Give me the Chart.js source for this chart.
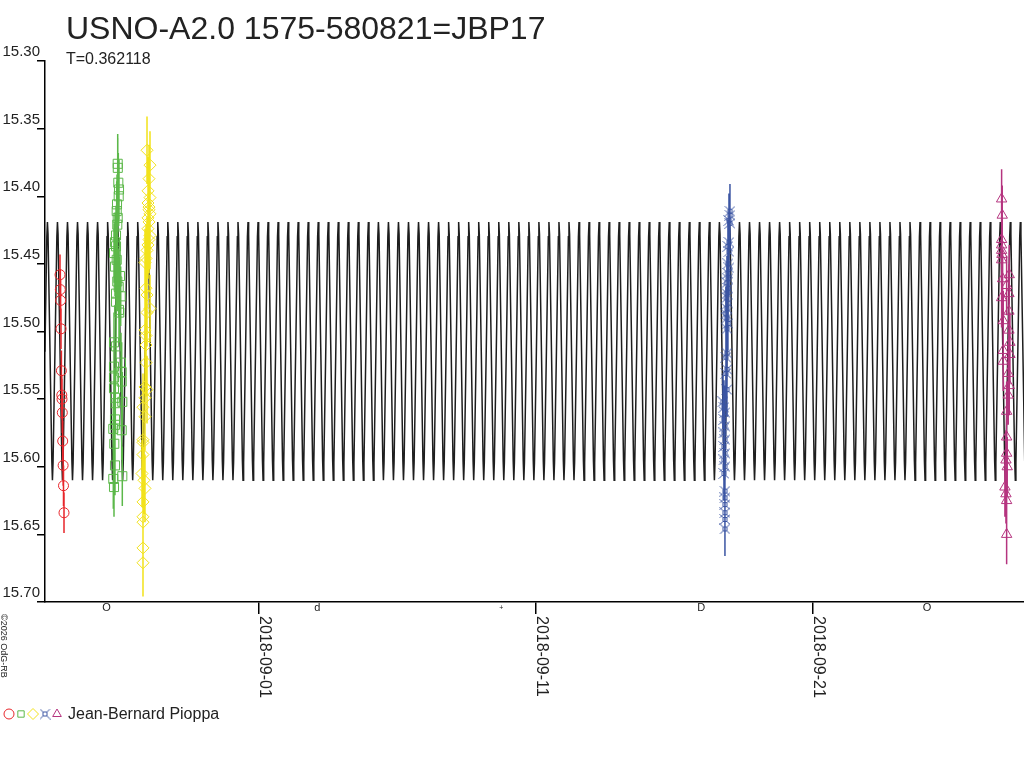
<!DOCTYPE html>
<html>
<head>
<meta charset="utf-8">
<title>USNO-A2.0 1575-580821=JBP17</title>
<script src="https://cdn.jsdelivr.net/npm/chart.js@4.4.1/dist/chart.umd.min.js"></script>
<style>
  html, body { margin: 0; padding: 0; background: #fff; }
  canvas { display: block; }
</style>
</head>
<body>
<canvas id="lightCurve" width="1024" height="768"></canvas>
<script>
// all times are days counted from 2018-09-01 00:00 UT
const starName = 'USNO-A2.0 1575-580821=JBP17';
const observer = 'Jean-Bernard Pioppa';
const periodDays = 0.362118;
const epochMaxDay = 2.863;
// one cycle of the model curve
const modelPhase = [0, 0.06, 0.25, 0.44, 0.5, 0.56, 0.75, 0.94];
const modelMag = [15.419, 15.428, 15.512, 15.596, 15.610, 15.597, 15.515, 15.430];

const xMinDay = -7.726;
const xMaxDay = 27.62;
const xTickDays = [0, 10, 20];
const xTickLabels = ['2018-09-01', '2018-09-11', '2018-09-21'];

// moon phases under the axis
const moonDays = [-5.503, 2.109, 8.751, 15.969, 24.120];
const moonMarks = ['O', 'd', '+', 'D', 'O'];

const redDays = [-7.184, -7.173, -7.162, -7.148, -7.134, -7.119, -7.112, -7.101, -7.087, -7.072, -7.058, -7.040];
const redMags = [15.458, 15.469, 15.477, 15.498, 15.529, 15.547, 15.550, 15.560, 15.581, 15.599, 15.614, 15.634];
const redErr = 0.015;

const greenDays = [-5.101, -5.098, -5.079, -5.054, -5.065, -5.126, -5.137, -5.101, -5.116, -5.162, -5.199,
  -5.162, -5.235, -5.137, -5.199, -5.018, -5.116, -5.065, -5.162, -4.993, -5.162, -5.054, -5.043, -5.235,
  -5.162, -4.982, -5.235, -4.957, -5.235, -4.957, -5.235, -5.199, -4.935, -5.188, -5.199, -5.199, -5.260,
  -4.957, -5.224, -5.199, -4.935, -5.260, -5.235];
const greenMags = [15.376, 15.379, 15.390, 15.395, 15.400, 15.406, 15.411, 15.416, 15.421, 15.429, 15.434,
  15.437, 15.442, 15.447, 15.452, 15.459, 15.463, 15.467, 15.472, 15.474, 15.478, 15.484, 15.486, 15.508,
  15.511, 15.523, 15.526, 15.530, 15.534, 15.537, 15.542, 15.549, 15.552, 15.553, 15.565, 15.569, 15.572,
  15.573, 15.583, 15.599, 15.607, 15.609, 15.615];
const greenErr = 0.022;

const yellowDays = [-4.043, -3.935, -3.971, -4.007, -3.935, -4.007, -3.971, -3.971, -3.935, -4.007, -3.971,
  -4.007, -3.935, -3.971, -4.007, -4.043, -4.079, -4.116, -4.079, -4.043, -3.935, -4.043, -4.116, -4.079,
  -4.079, -4.079, -4.116, -4.043, -4.116, -4.188, -4.116, -4.188, -4.188, -4.188, -4.224, -4.152, -4.116,
  -4.188, -4.188, -4.188, -4.188, -4.188];
const yellowMags = [15.366, 15.377, 15.387, 15.396, 15.401, 15.405, 15.408, 15.410, 15.413, 15.416, 15.419,
  15.424, 15.429, 15.432, 15.436, 15.440, 15.446, 15.449, 15.468, 15.473, 15.483, 15.486, 15.499, 15.503,
  15.510, 15.523, 15.541, 15.543, 15.549, 15.556, 15.563, 15.580, 15.582, 15.591, 15.605, 15.610, 15.616,
  15.626, 15.637, 15.641, 15.660, 15.671];
const yellowErr = 0.025;

const blueDays = [17.004, 17.004, 16.968, 17.004, 16.968, 16.931, 16.968, 16.931, 16.968, 16.931, 16.931,
  16.895, 16.931, 16.895, 16.895, 16.931, 16.895, 16.859, 16.895, 16.931, 16.895, 16.895, 16.859, 16.895,
  16.859, 16.895, 16.751, 16.787, 16.823, 16.787, 16.823, 16.787, 16.823, 16.787, 16.823, 16.787, 16.823,
  16.787, 16.823, 16.823, 16.823, 16.823, 16.823, 16.823];
const blueMags = [15.411, 15.414, 15.418, 15.420, 15.434, 15.437, 15.441, 15.450, 15.453, 15.457, 15.461,
  15.464, 15.468, 15.472, 15.475, 15.479, 15.483, 15.487, 15.490, 15.494, 15.498, 15.516, 15.519, 15.528,
  15.531, 15.543, 15.552, 15.556, 15.560, 15.565, 15.570, 15.575, 15.580, 15.585, 15.590, 15.595, 15.600,
  15.605, 15.618, 15.623, 15.628, 15.634, 15.639, 15.646];
const blueErr = 0.02;

const magentaDays = [26.812, 26.834, 26.812, 26.812, 26.812, 26.823, 26.812, 27.087, 26.848, 26.993, 27.076,
  26.812, 27.076, 26.870, 27.076, 27.112, 26.870, 27.112, 26.870, 27.050, 27.087, 27.050, 26.993, 26.993,
  26.993, 26.968, 27.014, 26.931, 26.968, 26.993, 26.993];
const magentaMags = [15.402, 15.414, 15.432, 15.436, 15.440, 15.443, 15.447, 15.458, 15.461, 15.466, 15.472,
  15.475, 15.485, 15.492, 15.499, 15.508, 15.514, 15.517, 15.522, 15.531, 15.540, 15.547, 15.559, 15.578,
  15.590, 15.595, 15.600, 15.615, 15.620, 15.625, 15.650];
const magentaErr = 0.022;

const FONT = "'Liberation Sans', Arial, sans-serif";
const RED = '#e8262b', GREEN = '#5cb84a', YELLOW = '#f2e21a', BLUE = '#3b55a3', MAGENTA = '#b5347f';

// blue marker looks like a little square with spikes on the corners
function makeBlueMark(color) {
  const c = document.createElement('canvas');
  c.width = 11; c.height = 11;
  const g = c.getContext('2d');
  g.strokeStyle = color;
  g.lineWidth = 1;
  g.strokeRect(3.5, 3.5, 4, 4);
  g.beginPath();
  g.moveTo(0.5, 0.5); g.lineTo(3.5, 3.5);
  g.moveTo(10.5, 0.5); g.lineTo(7.5, 3.5);
  g.moveTo(0.5, 10.5); g.lineTo(3.5, 7.5);
  g.moveTo(10.5, 10.5); g.lineTo(7.5, 7.5);
  g.stroke();
  return c;
}
const blueMark = makeBlueMark(BLUE);

function modelPoints() {
  const pts = [];
  const k0 = Math.floor((xMinDay - epochMaxDay) / periodDays) - 1;
  const k1 = Math.ceil((xMaxDay - epochMaxDay) / periodDays) + 1;
  for (let k = k0; k <= k1; k++) {
    modelPhase.forEach((ph, i) => {
      pts.push({x: epochMaxDay + (k + ph) * periodDays, y: modelMag[i]});
    });
  }
  return pts;
}

function obsPoints(days, mags) {
  return days.map((d, i) => ({x: d, y: mags[i]}));
}

// vertical error bars as broken line segments
function errorBars(days, mags, err) {
  const pts = [];
  days.forEach((d, i) => {
    pts.push({x: d, y: mags[i] - err}, {x: d, y: mags[i] + err}, {x: d, y: null});
  });
  return pts;
}

const series = [
  {days: redDays, mags: redMags, err: redErr, color: RED, style: 'circle', radius: 5},
  {days: greenDays, mags: greenMags, err: greenErr, color: GREEN, style: 'rect', radius: 6.4},
  {days: yellowDays, mags: yellowMags, err: yellowErr, color: YELLOW, style: 'rectRot', radius: 6},
  {days: blueDays, mags: blueMags, err: blueErr, color: BLUE, style: blueMark, radius: 5},
  {days: magentaDays, mags: magentaMags, err: magentaErr, color: MAGENTA, style: 'triangle', radius: 6}
];

const datasets = [{
  data: modelPoints(),
  showLine: true,
  borderColor: '#1e1e1e',
  borderWidth: 1.5,
  pointRadius: 0,
  order: 20
}];
series.forEach(s => {
  datasets.push({
    data: errorBars(s.days, s.mags, s.err),
    showLine: true,
    spanGaps: false,
    borderColor: s.color,
    borderWidth: 1.5,
    pointRadius: 0,
    order: 10
  });
  datasets.push({
    data: obsPoints(s.days, s.mags),
    pointStyle: s.style,
    pointRadius: s.radius,
    pointBorderWidth: 1,
    pointBorderColor: s.color,
    pointBackgroundColor: 'rgba(0,0,0,0)',
    order: 1
  });
});

const decorPlugin = {
  id: 'decor',
  afterDraw(chart) {
    const ctx = chart.ctx;
    const xs = chart.scales.x;
    ctx.save();
    ctx.fillStyle = '#222';
    ctx.textAlign = 'left';
    ctx.textBaseline = 'alphabetic';
    ctx.font = '32px ' + FONT;
    ctx.fillText(starName, 66, 39);
    ctx.font = '16px ' + FONT;
    ctx.fillText('T=' + periodDays, 66, 64);

    // date labels, turned to read downwards
    ctx.font = '16px ' + FONT;
    xTickDays.forEach((d, i) => {
      const px = xs.getPixelForValue(d);
      ctx.save();
      ctx.translate(px + 1, 616);
      ctx.rotate(Math.PI / 2);
      ctx.fillText(xTickLabels[i], 0, 0);
      ctx.restore();
    });

    // moon phase marks
    ctx.textAlign = 'center';
    ctx.textBaseline = 'middle';
    moonDays.forEach((d, i) => {
      ctx.font = (moonMarks[i] === '+' ? '7px ' : '11px ') + FONT;
      ctx.fillText(moonMarks[i], xs.getPixelForValue(d), 608);
    });

    // copyright, vertical
    ctx.save();
    ctx.font = '9px ' + FONT;
    ctx.textAlign = 'left';
    ctx.textBaseline = 'alphabetic';
    ctx.translate(1, 614);
    ctx.rotate(Math.PI / 2);
    ctx.fillText('\u00a92026 OdG-RB', 0, 0);
    ctx.restore();

    // legend
    const legendX = [9, 21, 33, 45, 57];
    const legendR = [5, 4.5, 5.5, 5, 5];
    series.forEach((s, i) => {
      ctx.strokeStyle = s.color;
      ctx.fillStyle = 'rgba(0,0,0,0)';
      ctx.lineWidth = 1;
      Chart.helpers.drawPoint(ctx, {pointStyle: s.style, radius: legendR[i], rotation: 0, borderWidth: 1},
        legendX[i], 714);
    });
    ctx.fillStyle = '#222';
    ctx.font = '16px ' + FONT;
    ctx.textAlign = 'left';
    ctx.textBaseline = 'alphabetic';
    ctx.fillText(observer, 68, 719);
    ctx.restore();
  }
};

new Chart(document.getElementById('lightCurve'), {
  type: 'scatter',
  data: {datasets: datasets},
  options: {
    responsive: false,
    animation: false,
    layout: {autoPadding: false, padding: {top: 61, left: 0, right: 0, bottom: 0}},
    plugins: {legend: {display: false}, tooltip: {enabled: false}},
    scales: {
      x: {
        type: 'linear',
        min: xMinDay,
        max: xMaxDay,
        afterBuildTicks: s => { s.ticks = xTickDays.map(v => ({value: v})); },
        afterFit: s => { s.height = 166; },
        ticks: {callback: () => '', maxRotation: 0, autoSkip: false},
        grid: {drawOnChartArea: false, drawTicks: true, tickLength: 12, color: '#000', lineWidth: 1.5},
        border: {display: true, color: '#000', width: 1.5}
      },
      y: {
        reverse: true,
        min: 15.30,
        max: 15.70,
        afterFit: s => { s.width = 45; },
        ticks: {
          stepSize: 0.05,
          padding: -3,
          color: '#222',
          font: {family: FONT, size: 15},
          callback: v => [Number(v).toFixed(2), '']
        },
        grid: {drawOnChartArea: false, drawTicks: true, tickLength: 8, color: '#000', lineWidth: 1.5},
        border: {display: true, color: '#000', width: 1.5}
      }
    }
  },
  plugins: [decorPlugin]
});
</script>
</body>
</html>
